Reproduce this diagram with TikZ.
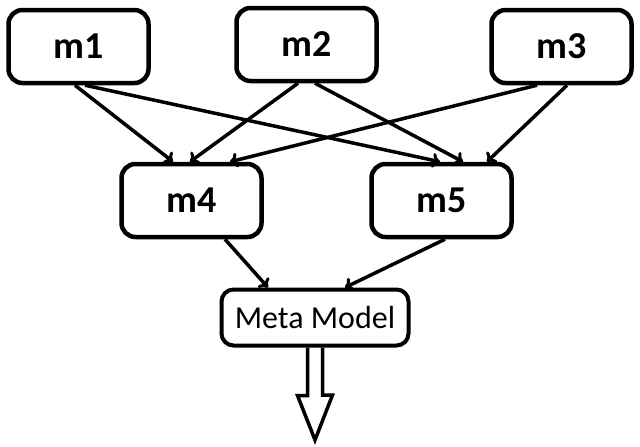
\documentclass[tikz,border=0pt]{standalone}
\usepackage{fontspec}
\setmainfont{Carlito}
\usetikzlibrary{arrows.meta}
\tikzset{
    modelbox/.style={draw, line width=4.5pt, rounded corners=14pt, minimum width=140pt, minimum height=73pt, inner sep=0pt, font=\fontsize{38}{42}\selectfont\bfseries},
    metabox/.style={draw, line width=4pt, rounded corners=12pt, minimum width=187pt, minimum height=56pt, inner sep=0pt, font=\fontsize{32}{36}\selectfont},
    link/.style={line width=3.5pt, -{To[length=8pt,width=15pt,line width=3pt]}}
}
\begin{document}
\begin{tikzpicture}[x=1pt,y=-1pt]
        \useasboundingbox (0,0) rectangle (640,447);
        % Draw the models
        \node[modelbox] (m1) at (78.5,46.5) {m1};
        \node[modelbox] (m2) at (306.5,44.5) {m2};
        \node[modelbox] (m3) at (561.5,46.5) {m3};
        \node[modelbox] (m4) at (191.5,200.5) {m4};
        \node[modelbox] (m5) at (441.5,200.5) {m5};
        \node[metabox] (meta) at (315,317.5) {Meta Model};
        
        % Draw the links between the models
        \foreach \src/\sx/\dst/\dx in {m1/-3.5/m4/-18.5, m1/6.5/m5/-1.5, m2/-8.5/m4/-1.5, m2/8.5/m5/21.5, m3/-24.5/m4/38.5, m3/5.5/m5/45.5, m4/33.5/meta/-47, m5/3.5/meta/30} {
            \draw[link] ([xshift=\sx pt]\src.south) -- ([xshift=\dx pt]\dst.north);
        };
        
        % Block arrow out of the meta model
        \draw[line width=3.5pt, line join=miter] ([xshift=-7.5pt]meta.south) -- ++(0,48) -- ++(-10,0) -- (315,440) -- (332.5,395) -- ++(-10,0) -- ([xshift=7.5pt]meta.south);
    \end{tikzpicture}
\end{document}
